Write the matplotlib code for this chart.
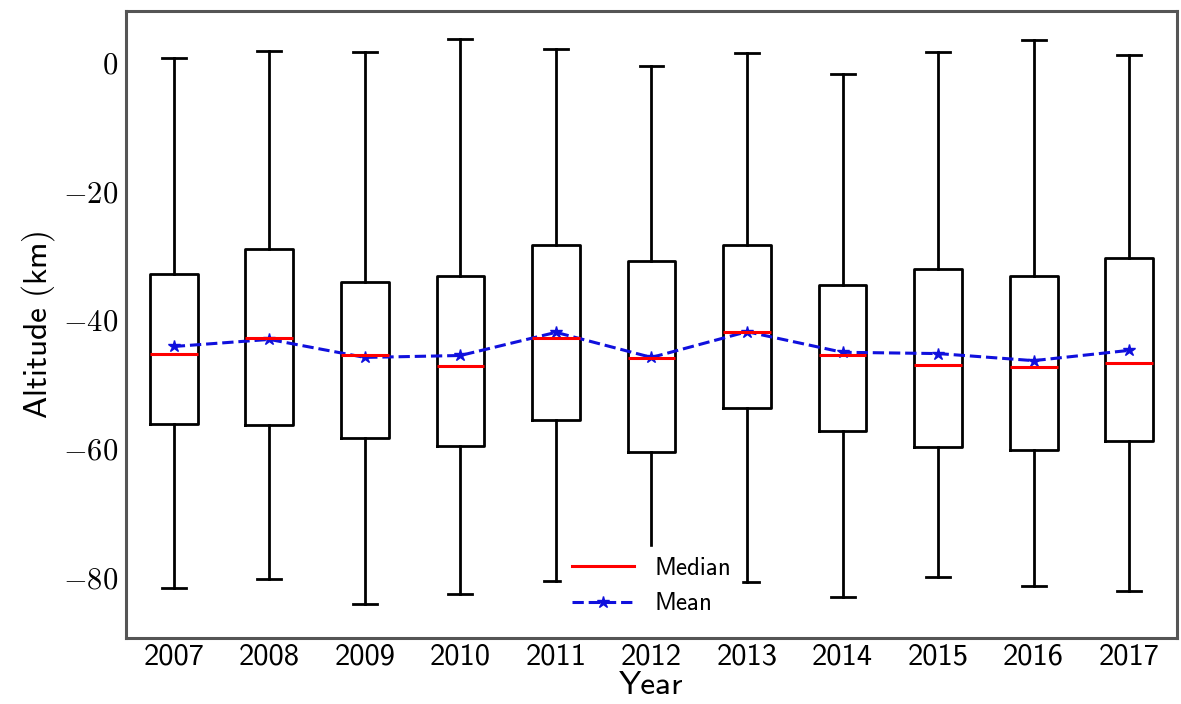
import matplotlib
matplotlib.use('Agg')
import matplotlib.pyplot as plt
import matplotlib.ticker as ticker

plt.rcParams['mathtext.fontset'] = 'cm'

# Yearly altitude statistics (km)
years = ['2007', '2008', '2009', '2010', '2011', '2012', '2013', '2014', '2015', '2016', '2017']
whishi = [0.6, 1.7, 1.5, 3.6, 2.0, -0.6, 1.4, -1.9, 1.5, 3.4, 1.1]
q3 = [-32.9, -29.1, -34.1, -33.3, -28.4, -30.9, -28.5, -34.7, -32.1, -33.3, -30.5]
medians = [-45.4, -42.9, -45.6, -47.3, -42.9, -46.0, -42.0, -45.6, -47.0, -47.4, -46.7]
means = [-44.2, -43.1, -45.9, -45.6, -42.0, -45.9, -41.9, -45.1, -45.3, -46.4, -44.8]
q1 = [-56.3, -56.4, -58.4, -59.7, -55.7, -60.6, -53.8, -57.4, -59.8, -60.3, -58.9]
whislo = [-81.7, -80.3, -84.2, -82.6, -80.6, -84.0, -80.8, -83.1, -80.0, -81.4, -82.2]
yticks = [0, -20, -40, -60, -80]

stats = []
for i in range(len(years)):
    stats.append({'whislo': whislo[i], 'q1': q1[i], 'med': medians[i],
                  'q3': q3[i], 'whishi': whishi[i], 'fliers': []})

fig = plt.figure(figsize=(11.81, 7.04), dpi=100)
ax = fig.add_axes([0.1067, 0.0938, 0.8899, 0.8902])

pos = list(range(1, len(years) + 1))
ax.bxp(stats, positions=pos, widths=0.5, showfliers=False,
       boxprops=dict(color='black', linewidth=2),
       whiskerprops=dict(color='black', linewidth=2),
       capprops=dict(color='black', linewidth=2),
       medianprops=dict(color='red', linewidth=2.2))

# proxy for the legend (medians drawn by bxp)
ax.plot([], [], color='red', linewidth=2.2, label='Median')
ax.plot(pos, means, color='#1010dd', linestyle='--', linewidth=2.2,
        marker='*', markersize=9, label='Mean')

ax.set_xlim(0.5, len(years) + 0.5)
ax.set_ylim(-89.5, 7.9)
ax.set_yticks(yticks)
ax.yaxis.set_major_formatter(ticker.FuncFormatter(lambda v, p: r'$%d$' % v))
ax.set_xticks(pos)
ax.set_xticklabels(years, family=['cmss10', 'DejaVu Sans'])
ax.tick_params(axis='both', length=0, labelsize=22)
ax.tick_params(axis='x', pad=4)
ax.tick_params(axis='y', pad=6)

ax.set_xlabel('Year', fontsize=24, labelpad=0, family=['cmss10', 'DejaVu Sans'])
ax.set_ylabel(r'$\mathsf{Altitude\ (km)}$', fontsize=24, labelpad=4)

for s in ax.spines.values():
    s.set_color('#555555')
    s.set_linewidth(2.2)

leg = ax.legend(loc='lower center', fontsize=18, handlelength=2.5,
                frameon=True, framealpha=1.0, edgecolor='white', fancybox=False,
                prop={'family': ['cmss10', 'DejaVu Sans'], 'size': 18})

plt.savefig('out.png', dpi=100)
